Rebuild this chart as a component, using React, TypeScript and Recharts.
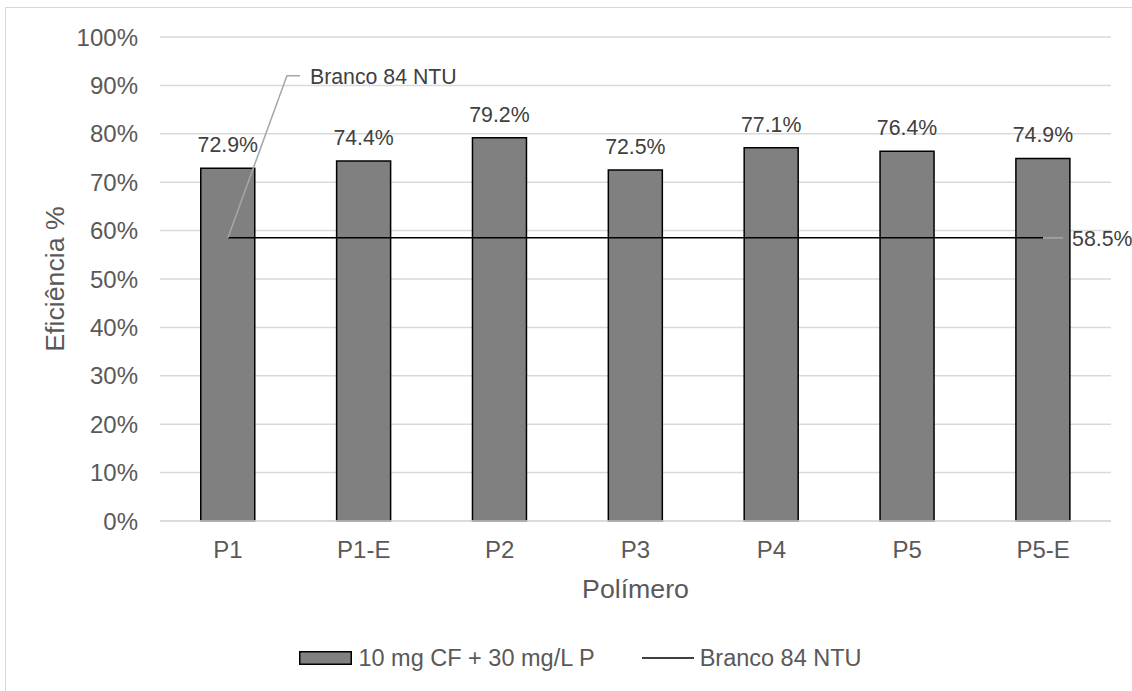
import React from 'react';
import { ComposedChart, Bar, Line, XAxis, YAxis, CartesianGrid, Legend, LabelList } from 'recharts';

const categories = ['P1', 'P1-E', 'P2', 'P3', 'P4', 'P5', 'P5-E'];
const efficiency = [72.9, 74.4, 79.2, 72.5, 77.1, 76.4, 74.9];
const blank = [58.5, 58.5, 58.5, 58.5, 58.5, 58.5, 58.5];
const yTicks = [0, 10, 20, 30, 40, 50, 60, 70, 80, 90, 100];
const barName = '10 mg CF + 30 mg/L P';
const lineName = 'Branco 84 NTU';

const data = categories.map((c, i) => ({ name: c, ef: efficiency[i], branco: blank[i] }));

const FONT = '"Liberation Sans", Arial, sans-serif';

const LineLabel = (props: any) => {
  const { x, y, value, index } = props;
  if (index === 0) {
    return (
      <g>
        <polyline
          points={`${x},${y} ${x + 59},${y - 162} ${x + 72},${y - 162}`}
          fill="none"
          stroke="#a6a6a6"
          strokeWidth={1.5}
        />
        <text x={x + 82} y={y - 162} dy="0.36em" fontSize={21.3} fill="#404040" fontFamily={FONT}>
          {lineName}
        </text>
      </g>
    );
  }
  if (index === categories.length - 1) {
    return (
      <g>
        <line x1={x} y1={y} x2={x + 20} y2={y} stroke="#a6a6a6" strokeWidth={1.5} />
        <text x={x + 29} y={y} dy="0.36em" fontSize={21.3} fill="#404040" fontFamily={FONT}>
          {`${Number(value).toFixed(1)}%`}
        </text>
      </g>
    );
  }
  return null;
};

const LegendContent = (props: any) => {
  const { payload } = props;
  return (
    <div style={{ display: 'flex', justifyContent: 'center', alignItems: 'center', height: 30, fontFamily: FONT, fontSize: 23.5, color: '#595959', position: 'relative', left: 10 }}>
      {(payload || []).map((p: any, i: number) => (
        <div key={i} style={{ display: 'flex', alignItems: 'center', marginLeft: i > 0 ? 47 : 0 }}>
          {p.type === 'line' ? (
            <svg width={52} height={14} style={{ marginRight: 6 }}>
              <line x1={0} y1={7} x2={52} y2={7} stroke="#000" strokeWidth={1.5} />
            </svg>
          ) : (
            <svg width={53} height={14} style={{ marginRight: 6 }}>
              <rect x={0.75} y={0.75} width={51.5} height={12.5} fill="#808080" stroke="#000" strokeWidth={1.5} />
            </svg>
          )}
          <span>{p.value}</span>
        </div>
      ))}
    </div>
  );
};

export default function App() {
  return (
    <div style={{ position: 'absolute', left: 0, top: 0, width: 1132, height: 691, overflow: 'hidden', background: '#fff' }}>
      <div style={{ position: 'absolute', left: 5, top: 7, width: 1200, height: 800, border: '1.5px solid #d9d9d9', boxSizing: 'border-box' }} />
      <div style={{ position: 'absolute', left: 0, top: 0 }}>
        <ComposedChart
          width={1132}
          height={691}
          data={data}
          margin={{ top: 37, right: 21, left: 30, bottom: 18 }}
          barCategoryGap="30%"
        >
          <CartesianGrid vertical={false} stroke="#d9d9d9" strokeWidth={1.5} />
          <XAxis
            dataKey="name"
            height={122}
            axisLine={{ stroke: '#d9d9d9', strokeWidth: 1.5 }}
            tickLine={false}
            tickSize={0}
            tickMargin={20}
            tick={{ fill: '#595959', fontSize: 24, fontFamily: FONT }}
            label={{ value: 'Polímero', position: 'insideTop', offset: 58, fill: '#595959', fontSize: 26.7, fontFamily: FONT }}
          />
          <YAxis
            width={130}
            domain={[0, 100]}
            ticks={yTicks}
            tickFormatter={(v: number) => `${v}%`}
            axisLine={false}
            tickLine={false}
            tickSize={0}
            tickMargin={22}
            tick={{ fill: '#595959', fontSize: 24, fontFamily: FONT }}
            label={{ value: 'Eficiência %', angle: -90, position: 'insideLeft', offset: 25, fill: '#595959', fontSize: 26.7, fontFamily: FONT, style: { textAnchor: 'middle' } }}
          />
          <Legend verticalAlign="bottom" align="center" content={<LegendContent />} />
          <Bar dataKey="ef" name={barName} fill="#808080" stroke="#000" strokeWidth={1.5} isAnimationActive={false} legendType="rect">
            <LabelList
              dataKey="ef"
              position="top"
              offset={16}
              formatter={(v: any) => `${Number(v).toFixed(1)}%`}
              style={{ fill: '#404040', fontSize: 21.3, fontFamily: FONT }}
            />
          </Bar>
          <Line
            dataKey="branco"
            name={lineName}
            stroke="#000"
            strokeWidth={1.5}
            dot={false}
            activeDot={false}
            isAnimationActive={false}
            legendType="line"
          >
            <LabelList dataKey="branco" content={<LineLabel />} />
          </Line>
        </ComposedChart>
      </div>
    </div>
  );
}
